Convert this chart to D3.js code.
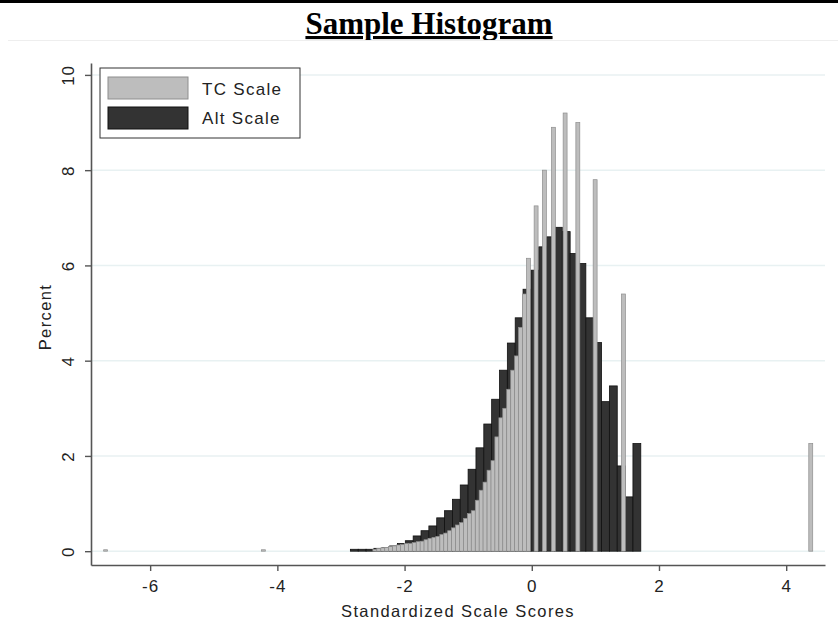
<!DOCTYPE html>
<html lang="en">
<head>
    <meta charset="UTF-8">
    <title>Sample Histogram</title>
    <script src="https://d3js.org/d3.v7.min.js"></script>
    <style>
        body {
            margin: 0;
            background: #fff;
        }
        svg text {
            font-family: "Liberation Sans", Arial, sans-serif;
            fill: #222;
        }
        .title {
            font-family: "Liberation Serif", "Times New Roman", serif !important;
            font-weight: bold;
            font-size: 31px;
            text-decoration: underline;
            fill: #000;
        }
        .grid line {
            stroke: #e8f1f2;
            stroke-width: 1.5;
        }
        .axis-title {
            font-size: 16.5px;
            letter-spacing: 1.4px;
        }
        .legend-label {
            font-size: 17px;
            letter-spacing: 1.3px;
        }
    </style>
</head>
<body>
<div id="chart"></div>
<script>
    // Alt scale: regular bins
    const altStart = -2.852;
    const altWidth = 0.1234;
    const altPercent = [
        0.04, 0.04, 0.04, 0.06, 0.07, 0.11, 0.16, 0.22, 0.32, 0.43,
        0.53, 0.70, 0.85, 1.09, 1.39, 1.72, 2.17, 2.67, 3.19, 3.80,
        4.37, 4.90, 5.50, 5.90, 6.39, 6.60, 6.80, 6.71, 6.25, 6.04,
        4.90, 4.38, 3.14, 3.47, 1.79, 1.14, 2.26
    ];

    // TC scale: narrow bars at the observed score values
    const tcWidth = 0.062;
    const tcScores = [
        -6.70, -4.22,
        -2.467, -2.405, -2.342, -2.281, -2.220, -2.157, -2.095, -2.034,
        -1.971, -1.910, -1.848, -1.785, -1.724, -1.663, -1.600, -1.538,
        -1.477, -1.414, -1.353, -1.291, -1.229, -1.167, -1.106, -1.043,
        -0.982, -0.920, -0.857, -0.796, -0.735, -0.672, -0.610, -0.549,
        -0.486, -0.425, -0.363, -0.300, -0.239, -0.178, -0.115,
        -0.053, 0.068, 0.198, 0.340, 0.524, 0.724, 0.996, 1.441, 4.386
    ];
    const tcPercent = [
        0.03, 0.03,
        0.04, 0.06, 0.07, 0.08, 0.10, 0.11, 0.13, 0.14,
        0.16, 0.16, 0.18, 0.20, 0.21, 0.24, 0.27, 0.29,
        0.31, 0.35, 0.38, 0.43, 0.49, 0.55, 0.60, 0.69,
        0.79, 0.85, 1.07, 1.28, 1.45, 1.70, 1.90, 2.40,
        2.80, 3.00, 3.40, 3.80, 4.10, 4.70, 5.40,
        6.15, 7.25, 8.00, 8.90, 9.20, 9.00, 7.80, 5.40, 2.26
    ];

    const xTicks = [-6, -4, -2, 0, 2, 4];
    const yTicks = [0, 2, 4, 6, 8, 10];
    const seriesNames = ["TC Scale", "Alt Scale"];
    const seriesFill = ["#bdbdbd", "#333333"];
    const seriesStroke = ["#8e8e8e", "#111111"];

    const W = 838, H = 642;
    const svg = d3.select("#chart").append("svg")
        .attr("width", W)
        .attr("height", H);

    const x = d3.scaleLinear().domain([-6.93, 4.61]).range([91, 825]);
    const y = d3.scaleLinear().domain([-0.29, 10.25]).range([565, 63]);

    // top rule, title, separator
    svg.append("rect").attr("x", 0).attr("y", 0).attr("width", W).attr("height", 3).attr("fill", "#000");
    svg.append("text")
        .attr("class", "title")
        .attr("x", 429)
        .attr("y", 34)
        .attr("text-anchor", "middle")
        .text("Sample Histogram");
    svg.append("line")
        .attr("x1", 8).attr("x2", W)
        .attr("y1", 40.5).attr("y2", 40.5)
        .attr("stroke", "#eeeeee");

    // gridlines
    svg.append("g").attr("class", "grid")
        .selectAll("line").data(yTicks).join("line")
        .attr("x1", x.range()[0]).attr("x2", x.range()[1])
        .attr("y1", d => y(d)).attr("y2", d => y(d));

    // Alt bars (behind)
    svg.append("g")
        .selectAll("rect").data(altPercent).join("rect")
        .attr("x", (d, i) => x(altStart + i * altWidth))
        .attr("width", (d, i) => x(altStart + (i + 1) * altWidth) - x(altStart + i * altWidth))
        .attr("y", d => y(d))
        .attr("height", d => y(0) - y(d))
        .attr("fill", seriesFill[1])
        .attr("stroke", seriesStroke[1])
        .attr("stroke-width", 0.8);

    // TC bars (front)
    svg.append("g")
        .selectAll("rect").data(tcScores).join("rect")
        .attr("x", d => x(d - tcWidth / 2))
        .attr("width", d => x(d + tcWidth / 2) - x(d - tcWidth / 2))
        .attr("y", (d, i) => y(tcPercent[i]))
        .attr("height", (d, i) => y(0) - y(tcPercent[i]))
        .attr("fill", seriesFill[0])
        .attr("stroke", seriesStroke[0])
        .attr("stroke-width", 0.7);

    // axes
    const xAxis = svg.append("g")
        .attr("transform", `translate(0,${y.range()[0]})`)
        .call(d3.axisBottom(x).tickValues(xTicks).tickSize(6).tickSizeOuter(0));
    xAxis.attr("font-size", 17).attr("font-family", "Liberation Sans, Arial, sans-serif");
    xAxis.select(".domain").attr("stroke", "#555").attr("stroke-width", 1.6);
    xAxis.selectAll(".tick line").attr("stroke", "#555").attr("stroke-width", 1.4);
    xAxis.selectAll(".tick text")
        .attr("dy", null)
        .attr("y", 27)
        .style("font-size", "17px")
        .style("letter-spacing", "1px")
        .style("fill", "#222")
        .text(d => String(d));

    const yAxis = svg.append("g")
        .attr("transform", `translate(${x.range()[0]},0)`)
        .call(d3.axisLeft(y).tickValues(yTicks).tickSize(6).tickSizeOuter(0));
    yAxis.attr("font-size", 17).attr("font-family", "Liberation Sans, Arial, sans-serif");
    yAxis.select(".domain").attr("stroke", "#555").attr("stroke-width", 1.6);
    yAxis.selectAll(".tick line").attr("stroke", "#555").attr("stroke-width", 1.4);
    yAxis.selectAll(".tick text")
        .attr("x", null).attr("dy", null)
        .attr("text-anchor", "middle")
        .attr("transform", "translate(-17,0) rotate(-90)")
        .style("font-size", "17px")
        .style("letter-spacing", "1px")
        .style("fill", "#222");

    svg.append("text")
        .attr("class", "axis-title")
        .attr("x", 458)
        .attr("y", 617)
        .attr("text-anchor", "middle")
        .text("Standardized Scale Scores");
    svg.append("text")
        .attr("class", "axis-title")
        .attr("transform", "translate(51,317) rotate(-90)")
        .attr("text-anchor", "middle")
        .text("Percent");

    // legend
    const legend = svg.append("g").attr("transform", "translate(100,68)");
    legend.append("rect")
        .attr("width", 200).attr("height", 70)
        .attr("fill", "#fff").attr("stroke", "#333").attr("stroke-width", 1);
    seriesNames.forEach((name, i) => {
        legend.append("rect")
            .attr("x", 8).attr("y", 9 + i * 30)
            .attr("width", 80).attr("height", 22)
            .attr("fill", seriesFill[i])
            .attr("stroke", seriesStroke[i]);
        legend.append("text")
            .attr("class", "legend-label")
            .attr("x", 102).attr("y", 27 + i * 29)
            .text(name);
    });
</script>
</body>
</html>
